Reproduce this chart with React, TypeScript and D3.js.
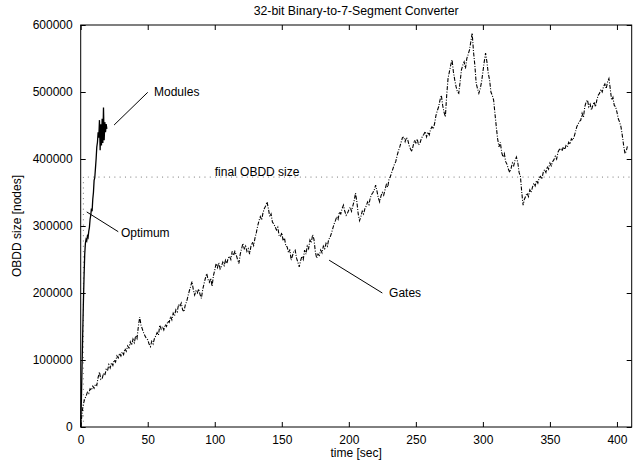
import React, { useEffect, useRef } from "react";
import * as d3 from "d3";

// sizes in thousands of nodes, time in sec
const modules: [number, number][] = [
  [0, 0], [0.5, 40], [1, 90], [1.5, 140], [2, 185], [2.5, 225], [3, 258], [3.5, 274], [4, 280],
  [4.5, 278], [5, 285], [5.5, 283], [6, 292], [6.5, 298], [7, 310], [7.5, 316], [8, 326], [8.5, 322],
  [9, 340], [9.5, 350], [10, 368], [10.5, 372], [11, 386], [11.5, 400], [12, 418], [12.5, 425],
  [13, 440], [13.5, 432], [14, 458], [14.5, 413], [15, 452], [15.5, 420], [16, 460], [16.5, 424],
  [17, 477], [17.5, 428], [18, 455], [18.5, 440], [19, 452], [19.5, 445],
];

const gates: [number, number][] = [
  [0, 0], [0.5, 10], [1, 20], [1.5, 28], [2, 34], [3, 42], [4, 46], [5, 52], [6, 50], [7, 57], [8, 55], [9, 61],
  [10, 58], [11, 64], [12, 62], [13, 74], [14, 82], [15, 71], [16, 72], [17, 80], [18, 77], [19, 86],
  [20, 84], [21, 93], [22, 88], [23, 96], [24, 92], [25, 100], [26, 97], [27, 106], [28, 103], [29, 110],
  [30, 106], [31, 112], [32, 108], [33, 117], [34, 113], [35, 121], [36, 118], [37, 127], [38, 122], [39, 131],
  [40, 126], [41, 136], [42, 132], [43, 150], [44, 164], [45, 152], [46, 146], [47, 140], [48, 136], [49, 132],
  [50, 130], [51, 124], [52, 120], [53, 128], [54, 124], [55, 132], [56, 136], [57, 141], [58, 137], [59, 152],
  [60, 146], [61, 150], [62, 145], [63, 153], [64, 150], [65, 158], [66, 156], [67, 165], [68, 160], [69, 170],
  [70, 166], [71, 175], [72, 172], [73, 183], [74, 180], [75, 185], [76, 175], [77, 172], [78, 182], [79, 187],
  [80, 195], [81, 203], [82, 210], [83, 217], [84, 205], [85, 197], [86, 203], [87, 200], [88, 206], [89, 198],
  [90, 192], [91, 205], [92, 214], [93, 222], [94, 229], [95, 220], [96, 216], [97, 222], [98, 210], [99, 226],
  [100, 234], [101, 244], [102, 238], [103, 245], [104, 236], [105, 240], [106, 246], [107, 241], [108, 249], [109, 244],
  [110, 252], [111, 255], [112, 250], [113, 262], [114, 256], [115, 262], [116, 257], [117, 250], [118, 244], [119, 258],
  [120, 266], [121, 274], [122, 266], [123, 270], [124, 262], [125, 266], [126, 258], [127, 270], [128, 276], [129, 271],
  [130, 282], [131, 290], [132, 300], [133, 308], [134, 314], [135, 309], [136, 320], [137, 326], [138, 330], [139, 336],
  [140, 326], [141, 314], [142, 318], [143, 306], [144, 303], [145, 299], [146, 294], [147, 298], [148, 286], [149, 284],
  [150, 290], [151, 278], [152, 282], [153, 270], [154, 269], [155, 260], [156, 265], [157, 249], [158, 256], [159, 262],
  [160, 264], [161, 252], [162, 246], [163, 239], [164, 248], [165, 255], [166, 250], [167, 264], [168, 258], [169, 270],
  [170, 266], [171, 279], [172, 275], [173, 287], [174, 280], [175, 262], [176, 252], [177, 258], [178, 256], [179, 264],
  [180, 260], [181, 270], [182, 266], [183, 274], [184, 270], [185, 280], [186, 283], [187, 289], [188, 296], [189, 303],
  [190, 308], [191, 314], [192, 310], [193, 321], [194, 318], [195, 326], [196, 331], [197, 322], [198, 316], [199, 319],
  [200, 324], [201, 328], [202, 322], [203, 330], [204, 338], [205, 349], [206, 336], [207, 318], [208, 308], [209, 314],
  [210, 322], [211, 318], [212, 326], [213, 330], [214, 336], [215, 332], [216, 342], [217, 347], [218, 350], [219, 354],
  [220, 361], [221, 352], [222, 342], [223, 336], [224, 345], [225, 350], [226, 346], [227, 354], [228, 362], [229, 358],
  [230, 370], [231, 374], [232, 380], [233, 386], [234, 392], [235, 396], [236, 405], [237, 412], [238, 418], [239, 425],
  [240, 432], [241, 433], [242, 426], [243, 432], [244, 428], [245, 420], [246, 415], [247, 411], [248, 420], [249, 428],
  [250, 424], [251, 430], [252, 421], [253, 423], [254, 430], [255, 434], [256, 437], [257, 441], [258, 433], [259, 440],
  [260, 436], [261, 444], [262, 448], [263, 445], [264, 453], [265, 465], [266, 472], [267, 478], [268, 488], [269, 495],
  [270, 480], [271, 470], [272, 463], [273, 495], [274, 520], [275, 530], [276, 540], [277, 548], [278, 530], [279, 518],
  [280, 508], [281, 500], [282, 498], [283, 515], [284, 533], [285, 540], [286, 545], [287, 535], [288, 550], [289, 556],
  [290, 563], [291, 575], [292, 588], [293, 560], [294, 540], [295, 513], [296, 505], [297, 498], [298, 505], [299, 515],
  [300, 530], [301, 545], [302, 558], [303, 545], [304, 528], [305, 518], [306, 500], [307, 495], [308, 488], [309, 468],
  [310, 448], [311, 430], [312, 418], [313, 425], [314, 410], [315, 403], [316, 408], [317, 396], [318, 392], [319, 385],
  [320, 380], [321, 386], [322, 394], [323, 390], [324, 398], [325, 403], [326, 395], [327, 380], [328, 374], [329, 350],
  [330, 331], [331, 340], [332, 345], [333, 349], [334, 344], [335, 354], [336, 350], [337, 358], [338, 364], [339, 360],
  [340, 368], [341, 364], [342, 372], [343, 374], [344, 370], [345, 380], [346, 384], [347, 380], [348, 389], [349, 385],
  [350, 394], [351, 390], [352, 396], [353, 399], [354, 404], [355, 400], [356, 410], [357, 414], [358, 416], [359, 412],
  [360, 418], [361, 414], [362, 420], [363, 418], [364, 425], [365, 422], [366, 430], [367, 428], [368, 433], [369, 440],
  [370, 448], [371, 452], [372, 456], [373, 458], [374, 468], [375, 462], [376, 478], [377, 485], [378, 488], [379, 478],
  [380, 482], [381, 473], [382, 480], [383, 485], [384, 478], [385, 488], [386, 495], [387, 498], [388, 504], [389, 500],
  [390, 508], [391, 512], [392, 505], [393, 515], [394, 520], [395, 505], [396, 488], [397, 492], [398, 480], [399, 478],
  [400, 470], [401, 460], [402, 455], [403, 448], [404, 435], [405, 420], [406, 408], [407, 412], [408, 421],
];

const finalSize = 373000;
const optimumTime = 2;
const xTicks = [0, 50, 100, 150, 200, 250, 300, 350, 400];
const yTicks = [0, 100000, 200000, 300000, 400000, 500000, 600000];

const W = 637, H = 460;
const margin = { top: 25, right: 5.3, bottom: 33, left: 80.7 };
const FONT = "'Liberation Sans', Arial, Helvetica, sans-serif";

export default function App() {
  const ref = useRef<SVGSVGElement>(null);

  useEffect(() => {
    const svg = d3.select(ref.current);
    svg.selectAll("*").remove();
    const width = W - margin.left - margin.right;
    const height = H - margin.top - margin.bottom;

    const g = svg.append("g").attr("transform", `translate(${margin.left},${margin.top})`);

    const x = d3.scaleLinear().domain([0, 411]).range([0, width]);
    const y = d3.scaleLinear().domain([0, 600000]).range([height, 0]);

    // axes with inward ticks, mirrored on top and right
    const tick = 5;
    const style = (sel: any) => {
      sel.select(".domain").remove();
      sel.selectAll("line").attr("stroke", "#000");
      sel.selectAll("text").attr("font-family", FONT).attr("font-size", 12).attr("fill", "#000");
    };
    g.append("g").attr("transform", `translate(0,${height})`)
      .call(d3.axisBottom(x).tickValues(xTicks).tickSizeInner(-tick).tickSizeOuter(0).tickPadding(8))
      .call(style);
    g.append("g")
      .call(d3.axisTop(x).tickValues(xTicks).tickSizeInner(-tick).tickSizeOuter(0).tickFormat(() => ""))
      .call(style);
    g.append("g")
      .call(d3.axisLeft(y).tickValues(yTicks).tickSizeInner(-tick).tickSizeOuter(0).tickPadding(8)
        .tickFormat(d3.format("d")))
      .call(style);
    g.append("g").attr("transform", `translate(${width},0)`)
      .call(d3.axisRight(y).tickValues(yTicks).tickSizeInner(-tick).tickSizeOuter(0).tickFormat(() => ""))
      .call(style);

    g.append("rect").attr("width", width).attr("height", height)
      .attr("fill", "none").attr("stroke", "#000").attr("stroke-width", 1);

    // final size / optimum dotted guides
    g.append("path")
      .attr("d", `M${x(optimumTime)},${y(0)}V${y(finalSize)}H${x(411)}`)
      .attr("fill", "none").attr("stroke", "#777").attr("stroke-width", 1)
      .attr("stroke-dasharray", "1,4.3");

    const line = d3.line<[number, number]>()
      .x(d => x(d[0]))
      .y(d => y(d[1] * 1000));

    g.append("path").datum(gates)
      .attr("d", line).attr("fill", "none").attr("stroke", "#000")
      .attr("stroke-width", 1.1).attr("stroke-dasharray", "4,1.5,1,1.5");

    g.append("path").datum(modules)
      .attr("d", line).attr("fill", "none").attr("stroke", "#000")
      .attr("stroke-width", 1.3);

    // annotations
    const ann = (x1: number, y1: number, x2: number, y2: number, tx: number, ty: number, label: string) => {
      g.append("line").attr("x1", x(x1)).attr("y1", y(y1)).attr("x2", x(x2)).attr("y2", y(y2))
        .attr("stroke", "#000").attr("stroke-width", 1);
      g.append("text").attr("x", x(tx)).attr("y", y(ty)).attr("dy", "0.35em")
        .attr("font-family", FONT).attr("font-size", 12).text(label);
    };
    ann(50, 499500, 24.9, 450700, 54.7, 500000, "Modules");
    ann(4.5, 321000, 28, 291500, 30, 289500, "Optimum");
    ann(185.3, 249000, 225, 200000, 230, 200000, "Gates");

    g.append("text").attr("x", x(100)).attr("y", y(finalSize)).attr("dy", "-0.1em")
      .attr("font-family", FONT).attr("font-size", 12).text("final OBDD size");

    svg.append("text").attr("x", margin.left + width / 2).attr("y", 15)
      .attr("text-anchor", "middle").attr("font-family", FONT).attr("font-size", 12.3)
      .text("32-bit Binary-to-7-Segment Converter");

    svg.append("text").attr("x", margin.left + width / 2).attr("y", 457)
      .attr("text-anchor", "middle").attr("font-family", FONT).attr("font-size", 12)
      .text("time [sec]");

    svg.append("text")
      .attr("transform", `translate(21,${margin.top + height / 2}) rotate(-90)`)
      .attr("text-anchor", "middle").attr("font-family", FONT).attr("font-size", 12)
      .text("OBDD size [nodes]");
  }, []);

  return (
    <svg ref={ref} width={W} height={H}
      style={{ position: "absolute", left: 0, top: 0, background: "#fff" }} />
  );
}
